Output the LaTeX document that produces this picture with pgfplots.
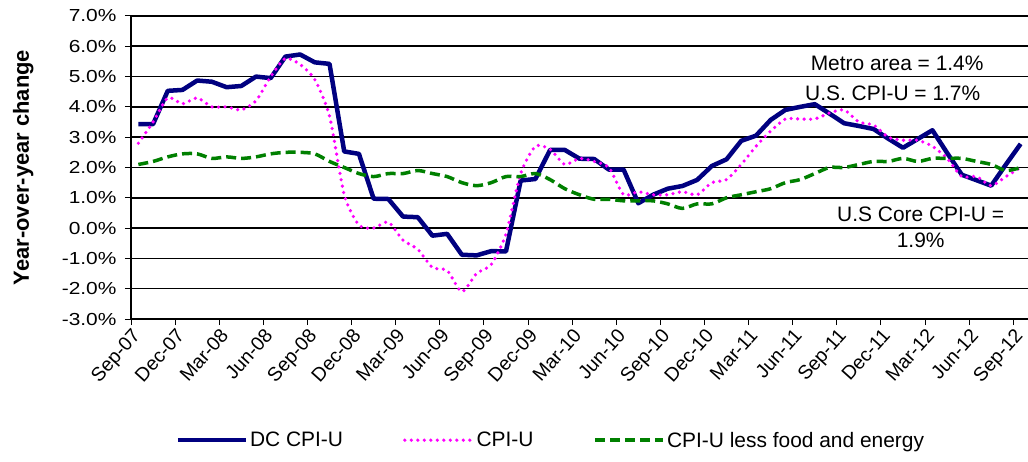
\documentclass[border=0pt]{standalone}
\usepackage{fontspec}
\setmainfont{Liberation Sans}
\newfontfamily\tickfont[FakeStretch=1.2]{Liberation Sans}
\usepackage{pgfplots}
\pgfplotsset{compat=1.18}
\usepackage{pgfplotstable}

\definecolor{dcnavy}{RGB}{0,0,128}
\definecolor{cpimag}{RGB}{255,0,255}
\definecolor{coregreen}{RGB}{0,128,0}

\pgfplotstableread{
m v
0 3.43
1 3.43
2 4.53
3 4.56
4 4.87
5 4.83
6 4.65
7 4.69
8 5.00
9 4.95
10 5.66
11 5.73
12 5.47
13 5.42
14 2.53
15 2.45
16 0.97
17 0.96
18 0.38
19 0.36
20 -0.25
21 -0.19
22 -0.88
23 -0.90
24 -0.76
25 -0.77
26 1.57
27 1.62
28 2.58
29 2.58
30 2.29
31 2.28
32 1.93
33 1.93
34 0.82
35 1.10
36 1.30
37 1.39
38 1.59
39 2.05
40 2.27
41 2.88
42 3.05
43 3.57
44 3.90
45 4.00
46 4.09
47 3.78
48 3.46
49 3.37
50 3.27
51 2.95
52 2.65
53 2.94
54 3.23
55 2.48
56 1.76
57 1.58
58 1.40
59 2.10
60 2.78
}\dcdata

\pgfplotstableread{
m v
0 2.8
1 3.5
2 4.3
3 4.1
4 4.3
5 4.0
6 4.0
7 3.9
8 4.2
9 5.0
10 5.6
11 5.4
12 4.9
13 3.7
14 1.1
15 0.1
16 0.0
17 0.2
18 -0.4
19 -0.7
20 -1.3
21 -1.4
22 -2.1
23 -1.5
24 -1.2
25 -0.2
26 1.8
27 2.7
28 2.6
29 2.1
30 2.3
31 2.2
32 2.0
33 1.1
34 1.2
35 1.1
36 1.1
37 1.2
38 1.1
39 1.5
40 1.6
41 2.1
42 2.7
43 3.2
44 3.6
45 3.6
46 3.6
47 3.8
48 3.9
49 3.5
50 3.4
51 3.0
52 2.9
53 2.9
54 2.7
55 2.3
56 1.7
57 1.7
58 1.4
59 1.7
60 2.0
}\cpidata

\pgfplotstableread{
m v
0 2.1
1 2.2
2 2.35
3 2.45
4 2.45
5 2.3
6 2.35
7 2.3
8 2.35
9 2.45
10 2.5
11 2.5
12 2.45
13 2.2
14 2.0
15 1.8
16 1.7
17 1.8
18 1.8
19 1.9
20 1.8
21 1.7
22 1.5
23 1.4
24 1.5
25 1.7
26 1.7
27 1.8
28 1.6
29 1.3
30 1.1
31 0.95
32 0.95
33 0.9
34 0.9
35 0.9
36 0.8
37 0.65
38 0.8
39 0.8
40 1.0
41 1.1
42 1.2
43 1.3
44 1.5
45 1.6
46 1.8
47 2.0
48 2.0
49 2.1
50 2.2
51 2.2
52 2.3
53 2.2
54 2.3
55 2.3
56 2.3
57 2.2
58 2.1
59 1.9
60 2.0
}\coredata

\begin{document}
\begin{tikzpicture}
\useasboundingbox (0,0) rectangle (1028bp,462bp);
\begin{axis}[
  at={(131bp,143bp)}, anchor=south west,
  scale only axis, width=897bp, height=303bp,
  xmin=-0.5, xmax=60.5, ymin=-3, ymax=7,
  axis x line=bottom, axis y line=left,
  axis line style={-, line width=1.3bp, black},
  xtick={-0.5,2.5,5.5,8.5,11.5,14.5,17.5,20.5,23.5,26.5,29.5,32.5,35.5,38.5,41.5,44.5,47.5,50.5,53.5,56.5,59.5},
  xticklabels={Sep-07,Dec-07,Mar-08,Jun-08,Sep-08,Dec-08,Mar-09,Jun-09,Sep-09,Dec-09,Mar-10,Jun-10,Sep-10,Dec-10,Mar-11,Jun-11,Sep-11,Dec-11,Mar-12,Jun-12,Sep-12},
  ytick={-3,-2,-1,0,1,2,3,4,5,6,7},
  yticklabels={-3.0\%,-2.0\%,-1.0\%,0.0\%,1.0\%,2.0\%,3.0\%,4.0\%,5.0\%,6.0\%,7.0\%},
  tick align=outside, major tick length=6bp,
  tick style={black, line width=1bp},
  ymajorgrids, major grid style={black, line width=1.6bp},
  xticklabel style={rotate=48, anchor=north east, font=\fontsize{19.5}{19.5}\selectfont, inner sep=1.5bp},
  yticklabel style={font=\tickfont\fontsize{17.5}{17.5}\selectfont, xshift=-5bp},
  ylabel={Year-over-year change},
  ylabel style={font=\bfseries\fontsize{22}{22}\selectfont, at={(axis description cs:-0.12,0.5)}, anchor=center},
  no markers,
  legend columns=3,
  legend style={at={(axis description cs:0.468,-0.40)}, anchor=center, draw=none, fill=none,
    font=\fontsize{21}{21}\selectfont,
    /tikz/every even column/.append style={column sep=58bp}},
  legend image code/.code={\draw[#1] (0bp,0bp) -- (68bp,0bp);},
]
\addplot[draw=dcnavy, line width=4.5bp, line join=round] table[x=m,y=v] {\dcdata};
\addlegendentry{DC CPI-U}
\addplot[draw=cpimag, line width=3.6bp, line cap=round, dash pattern=on 0bp off 6.5bp, smooth, tension=0.4] table[x=m,y=v] {\cpidata};
\addlegendentry{CPI-U}
\addplot[draw=coregreen, line width=3.5bp, dash pattern=on 10bp off 5bp, smooth, tension=0.5] table[x=m,y=v] {\coredata};
\addlegendentry{CPI-U less food and energy}
\node[font=\fontsize{21}{21}\selectfont] at (axis cs:51.6,5.45) {Metro area = 1.4\%};
\node[font=\fontsize{21}{21}\selectfont] at (axis cs:51.3,4.46) {U.S. CPI-U = 1.7\%};
\node[font=\fontsize{21}{21}\selectfont] at (axis cs:53.2,0.44) {U.S Core CPI-U =};
\node[font=\fontsize{21}{21}\selectfont] at (axis cs:53.2,-0.39) {1.9\%};
\end{axis}
\end{tikzpicture}
\end{document}
